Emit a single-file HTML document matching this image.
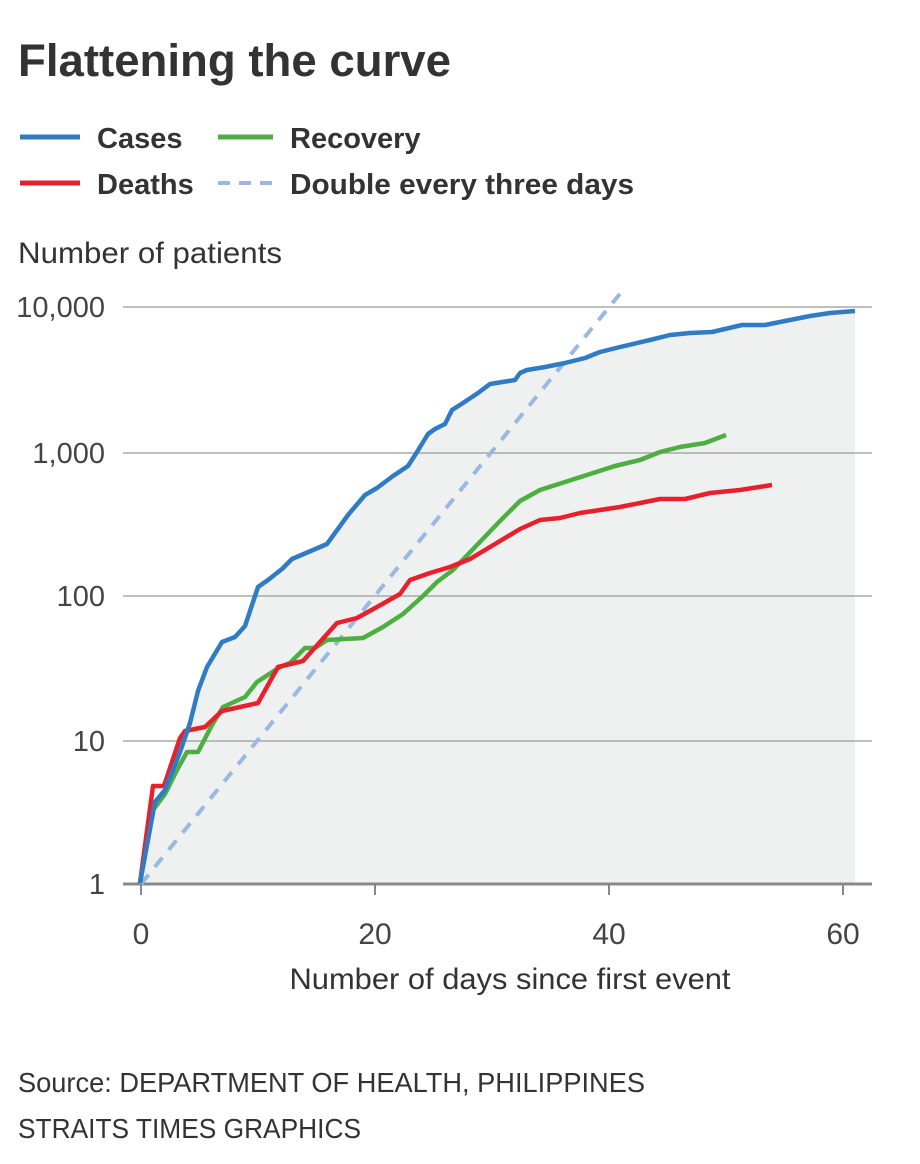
<!DOCTYPE html>
<html><head><meta charset="utf-8"><style>
body{margin:0;background:#fff;}
svg{display:block;font-family:"Liberation Sans",sans-serif;}
</style></head><body>
<svg width="920" height="1164" viewBox="0 0 920 1164">
<text x="18" y="76" font-size="45" font-weight="bold" fill="#333" textLength="433" lengthAdjust="spacingAndGlyphs">Flattening the curve</text>
<g font-size="29" font-weight="bold" fill="#333">
<line x1="20" y1="137" x2="80" y2="137" stroke="#2f7bc4" stroke-width="5"/>
<text x="97" y="148">Cases</text>
<line x1="218" y1="137" x2="273" y2="137" stroke="#4caf3f" stroke-width="5"/>
<text x="290" y="148">Recovery</text>
<line x1="20" y1="183" x2="80" y2="183" stroke="#e8202e" stroke-width="5"/>
<text x="97" y="194">Deaths</text>
<line x1="218" y1="183" x2="273" y2="183" stroke="#9ab8e2" stroke-width="4" stroke-dasharray="12 9"/>
<text x="290" y="194" textLength="344" lengthAdjust="spacingAndGlyphs">Double every three days</text>
</g>
<text x="18" y="263" font-size="30" fill="#333" textLength="264" lengthAdjust="spacingAndGlyphs">Number of patients</text>
<polygon fill="#eff0f0" points="140,883 155,802 165,790 180,752 190,723 198,691 207,667 222,642 235,637 245,626 253,602 258,587 268,580 282,569 292,559 327,544 348,515 365,495 377,488 393,476 408,466 417,452 428,434 435,429 445,424 452,410 463,403 478,393 490,384 515,380 520,373 527,370 545,367 565,363 585,358 600,352 620,347 650,340 670,335 690,333 712,332 742,325 765,325 790,320 810,316 830,313 855,311 855,884 140,884"/>
<g stroke="#999" stroke-width="1.2">
<line x1="123" y1="307" x2="872" y2="307"/>
<line x1="123" y1="453" x2="872" y2="453"/>
<line x1="123" y1="596" x2="872" y2="596"/>
<line x1="123" y1="741" x2="872" y2="741"/>
</g>
<g stroke="#888" stroke-width="3">
<line x1="123" y1="884" x2="872" y2="884"/>
<line x1="141" y1="884" x2="141" y2="895" stroke-width="2"/>
<line x1="375" y1="884" x2="375" y2="895" stroke-width="2"/>
<line x1="609" y1="884" x2="609" y2="895" stroke-width="2"/>
<line x1="843" y1="884" x2="843" y2="895" stroke-width="2"/>
</g>
<g font-size="29" fill="#444" text-anchor="end">
<text x="105" y="317">10,000</text>
<text x="105" y="463">1,000</text>
<text x="105" y="606">100</text>
<text x="105" y="751">10</text>
<text x="105" y="894">1</text>
</g>
<g font-size="30" fill="#444" text-anchor="middle">
<text x="141" y="944">0</text>
<text x="375" y="944">20</text>
<text x="609" y="944">40</text>
<text x="843" y="944">60</text>
<text x="510" y="989" fill="#333" textLength="441" lengthAdjust="spacingAndGlyphs">Number of days since first event</text>
</g>
<line x1="141" y1="884" x2="623" y2="290" stroke="#9ab8e2" stroke-width="4" stroke-dasharray="12 10"/>
<g fill="none" stroke-width="4.5" stroke-linejoin="round">
<polyline stroke="#4caf3f" points="140,883 153,810 165,794 177,770 187,752 198,752 212,725 223,707 245,697 257,682 280,667 290,663 305,648 315,648 327,640 363,638 383,627 403,614 423,596 437,582 453,570 477,545 500,521 520,501 540,490 565,482 590,474 615,466 640,460 660,452 680,447 705,443 726,435"/>
<polyline stroke="#e8202e" points="140,883 153,786 164,786 180,738 185,731 205,727 222,711 258,703 278,667 303,661 337,623 357,618 377,607 400,594 410,580 430,573 450,567 470,559 520,529 540,520 560,518 580,513 600,510 620,507 640,503 660,499 685,499 710,493 740,490 772,485"/>
<polyline stroke="#2f7bc4" points="140,883 155,802 165,790 180,752 190,723 198,691 207,667 222,642 235,637 245,626 253,602 258,587 268,580 282,569 292,559 327,544 348,515 365,495 377,488 393,476 408,466 417,452 428,434 435,429 445,424 452,410 463,403 478,393 490,384 515,380 520,373 527,370 545,367 565,363 585,358 600,352 620,347 650,340 670,335 690,333 712,332 742,325 765,325 790,320 810,316 830,313 855,311"/>
</g>
<g font-size="28" fill="#333">
<text x="18" y="1092" textLength="627" lengthAdjust="spacingAndGlyphs">Source: DEPARTMENT OF HEALTH, PHILIPPINES</text>
<text x="18" y="1138" textLength="343" lengthAdjust="spacingAndGlyphs">STRAITS TIMES GRAPHICS</text>
</g>
</svg>
</body></html>
